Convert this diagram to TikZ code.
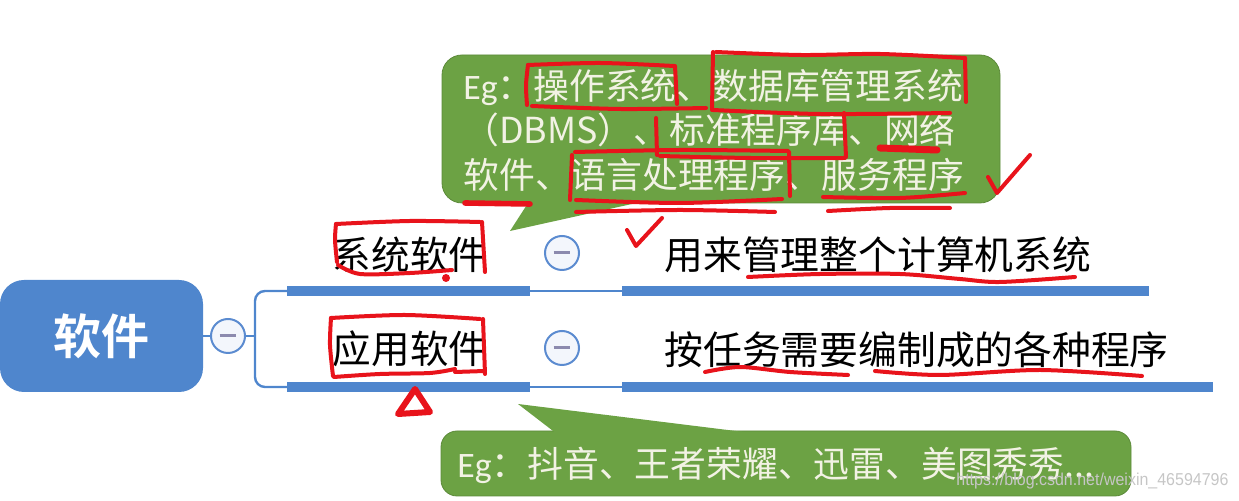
\documentclass[tikz,border=0pt]{standalone}
\usepackage{fontspec}
\setmainfont{Noto Sans CJK SC}[BoldFont={Noto Sans CJK SC Bold}]
\newfontfamily\egfont{Carlito}
\newfontfamily\wmfont{Liberation Sans}

\definecolor{mapblue}{HTML}{4F86CD}
\definecolor{foldblue}{HTML}{5B8BD0}
\definecolor{foldfill}{HTML}{F3F6FC}
\definecolor{minusgray}{HTML}{8C8AAE}
\definecolor{egreen}{HTML}{6CA244}
\definecolor{egtext}{HTML}{F2F2E4}
\definecolor{pen}{HTML}{E8131B}

\tikzset{
  rootbox/.style={fill=mapblue, rounded corners=12pt, minimum width=101.5pt, minimum height=56pt,
    text=white, font=\fontsize{24pt}{28pt}\selectfont\bfseries},
  fold/.style={circle, draw=foldblue, line width=1pt, fill=foldfill, minimum size=17pt, inner sep=0pt,
    path picture={\draw[minusgray, line width=1.5pt]
      ([xshift=-4.2pt]path picture bounding box.center) -- ([xshift=4.2pt]path picture bounding box.center);}},
  branch/.style={inner sep=0pt, font=\fontsize{19.3pt}{23pt}\selectfont},
  desc/.style={inner sep=0pt, anchor=west, font=\fontsize{19.4pt}{23pt}\selectfont},
  link/.style={draw=mapblue, line width=1.2pt},
  thickbar/.style={draw=mapblue, line width=5pt},
  egline/.style={inner sep=0pt, anchor=west, text=egtext, font=\fontsize{17.9pt}{21pt}\selectfont},
  redpen/.style={draw=pen, line width=2pt, line cap=round, line join=round},
  wmtext/.style={inner sep=0pt, anchor=west, text=gray!45, font=\wmfont\fontsize{8.6pt}{10pt}\selectfont},
}

\begin{document}
\begin{tikzpicture}[x=0.5pt,y=-0.5pt]
\useasboundingbox (0,0) rectangle (1239,501);

% callouts
\fill[egreen, draw=egreen!85!black, line width=0.4pt, rounded corners=10pt] (442,55) rectangle (1000,203);
\fill[egreen] (530,200) -- (510,231) -- (650,200) -- cycle;
\fill[egreen, draw=egreen!85!black, line width=0.4pt, rounded corners=8pt] (441,431) rectangle (1131,496);
\fill[egreen] (557,434) -- (518,404) -- (760,434) -- cycle;

\node[egline] (eg1) at (463,87) {{\egfont Eg}：操作系统、数据库管理系统};
\node[egline] (eg2) at (463,130) {（DBMS）、标准程序库、网络};
\node[egline] (eg3) at (463,175) {软件、语言处理程序、服务程序};
\node[egline] (eg4) at (457,465) {{\egfont Eg}：抖音、王者荣耀、迅雷、美图秀秀...};

% the map
\node[rootbox] (root) at (101.5,336) {软件};
\node[fold] (rfold) at (228,336) {};
\coordinate (fork) at (255,336);

\node[branch] (sys) at (410,255) {系统软件};
\node[fold] (sysfold) at (562,253) {};
\node[desc] (sysdesc) at (664,255) {用来管理整个计算机系统};
\node[branch] (app) at (410,349) {应用软件};
\node[fold] (appfold) at (562,348) {};
\node[desc] (appdesc) at (664,350) {按任务需要编制成的各种程序};

\coordinate (sysA) at (287,291);
\coordinate (sysB) at (530,291);
\coordinate (sysC) at (622,291);
\coordinate (sysD) at (1149,291);
\coordinate (appA) at (287,387);
\coordinate (appB) at (530,387);
\coordinate (appC) at (622,387);
\coordinate (appD) at (1213,387);

\draw[link] (root) -- (rfold);
\draw[link] (rfold) -- (fork);
\draw[link, rounded corners=5pt] (fork) |- (sysA);
\draw[link, rounded corners=5pt] (fork) |- (appA);
\draw[thickbar] (sysA) -- (sysB);
\draw[link] (sysB) -- (sysC);
\draw[thickbar] (sysC) -- (sysD);
\draw[thickbar] (appA) -- (appB);
\draw[link] (appB) -- (appC);
\draw[thickbar] (appC) -- (appD);

% red pen marks
\draw[redpen] plot[smooth] coordinates {(527,105) (526,85) (528,65)};
\draw[redpen] plot[smooth] coordinates {(528,65) (600,63) (674,66)};
\draw[redpen] (675,66) -- (677,104);
\draw[redpen] plot[smooth] coordinates {(532,106) (620,109) (706,108)};
\draw[redpen] (712,110) -- (713,52);
\draw[redpen] plot[smooth] coordinates {(716,52) (800,55) (880,54) (965,58)};
\draw[redpen] (965,58) -- (966,102);
\draw[redpen] plot[smooth] coordinates {(713,110) (820,114) (950,113)};
\draw[redpen] (656,118) -- (657,155);
\draw[redpen] (844,113) -- (846,157);
\draw[redpen] plot[smooth] coordinates {(660,156) (750,158) (845,158)};
\draw[redpen, line width=3.5pt] (880,148) -- (937,150);
\draw[redpen] (572,155) -- (570,200);
\draw[redpen] plot[smooth] coordinates {(575,152) (680,150) (788,151)};
\draw[redpen] (789,152) -- (790,196);
\draw[redpen] plot[smooth] coordinates {(576,200) (680,203) (782,199)};
\draw[redpen] plot[smooth] coordinates {(576,212) (680,210) (775,212)};
\draw[redpen] plot[smooth] coordinates {(823,197) (900,198) (965,193)};
\draw[redpen] plot[smooth] coordinates {(828,211) (890,208) (950,208)};
\draw[redpen, line width=2.8pt] (465,203) -- (530,204);
\draw[redpen] (988,177) -- (997,193) -- (1030,155);
\draw[redpen] (627,230) -- (636,246) -- (662,218);

\draw[redpen] plot[smooth] coordinates {(337,262) (335,240) (336,224)};
\draw[redpen] plot[smooth] coordinates {(336,224) (410,221) (480,222)};
\draw[redpen] (482,222) -- (485,272);
\draw[redpen] plot[smooth] coordinates {(338,265) (360,274) (410,273) (452,270)};
\fill[pen] (446,278) circle (4);
\draw[redpen] plot[smooth] coordinates {(333,376) (330,345) (331,318)};
\draw[redpen] plot[smooth] coordinates {(331,318) (405,315) (480,319)};
\draw[redpen] (483,319) -- (485,374);
\draw[redpen] plot[smooth] coordinates {(334,377) (380,374) (430,373) (455,369)};
\draw[redpen] (455,372) -- (485,371);
\draw[redpen, line width=3pt] (415,389) -- (398,414) -- (430,412) -- cycle;

\draw[redpen] plot[smooth] coordinates {(748,277) (820,274) (900,274) (960,279) (1000,282) (1075,277)};
\draw[redpen] plot[smooth] coordinates {(705,372) (740,367) (790,372) (848,375)};
\draw[redpen] plot[smooth] coordinates {(875,371) (940,375) (1040,370) (1142,376)};

% watermark
\node[wmtext] (wm) at (956,481) {\scalebox{0.93}[1]{https://blog.csdn.net/weixin\_46594796}};
\end{tikzpicture}
\end{document}
